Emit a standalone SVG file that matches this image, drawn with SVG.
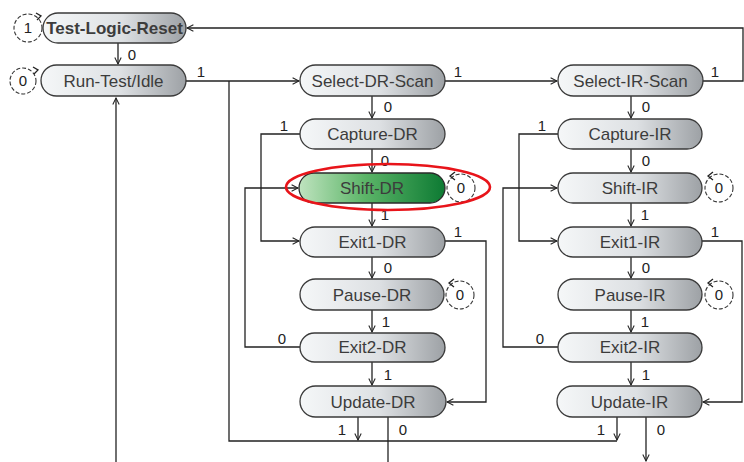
<svg xmlns="http://www.w3.org/2000/svg" width="744" height="462" viewBox="0 0 744 462">
<defs>
<linearGradient id="gray" x1="0" y1="0" x2="1" y2="0">
<stop offset="0" stop-color="#f5f7f8"/>
<stop offset="0.55" stop-color="#dde0e3"/>
<stop offset="1" stop-color="#9da1a5"/>
</linearGradient>
<linearGradient id="green" x1="0" y1="0" x2="1" y2="0">
<stop offset="0" stop-color="#bfe3bf"/>
<stop offset="0.45" stop-color="#5cb568"/>
<stop offset="1" stop-color="#0d7a33"/>
</linearGradient>
<marker id="arr" viewBox="0 0 10 10" refX="9" refY="5" markerWidth="8" markerHeight="8" markerUnits="userSpaceOnUse" orient="auto">
<path d="M1,1 L9,5 L1,9" fill="none" stroke="#222" stroke-width="1.3"/>
</marker>
<style>
.node{stroke:#3a3a3a;stroke-width:1.3;fill:url(#gray)}
.gnode{stroke:#2a2a2a;stroke-width:1.3;fill:url(#green)}
.nt{font-family:"Liberation Sans",Arial,sans-serif;font-size:17px;fill:#3c3c3c;text-anchor:middle}
.lbl{font-family:"Liberation Sans",Arial,sans-serif;font-size:15px;fill:#222;text-anchor:middle}
.c{fill:none;stroke:#222;stroke-width:1.3}
.loop{fill:#fff;stroke:#333;stroke-width:1.1;stroke-dasharray:4,2}
</style>
</defs>

<g id="connectors">
<path class="c" d="M118,43 V64" marker-end="url(#arr)"/>
<path class="c" d="M186,81 H299" marker-end="url(#arr)"/>
<path class="c" d="M445,81 H557" marker-end="url(#arr)"/>
<path class="c" d="M702,81 H743 V28 H187" marker-end="url(#arr)"/>
<path class="c" d="M372,96 V118" marker-end="url(#arr)"/>
<path class="c" d="M372,149 V172" marker-end="url(#arr)"/>
<path class="c" d="M372,203 V226" marker-end="url(#arr)"/>
<path class="c" d="M300,134 H261 V241 H299" marker-end="url(#arr)"/>
<path class="c" d="M372,257 V278" marker-end="url(#arr)"/>
<path class="c" d="M372,310 V332" marker-end="url(#arr)"/>
<path class="c" d="M300,347 H245 V188 H298" marker-end="url(#arr)"/>
<path class="c" d="M372,362 V385" marker-end="url(#arr)"/>
<path class="c" d="M445,241 H486 V402 H447" marker-end="url(#arr)"/>
<path class="c" d="M358,417 V440" marker-end="url(#arr)"/>
<path class="c" d="M617,417 V440" marker-end="url(#arr)"/>
<path class="c" d="M617,441 H229 V81"/>
<path class="c" d="M388,417 V462"/>
<path class="c" d="M116,462 V98" marker-end="url(#arr)"/>
<path class="c" d="M631,96 V118" marker-end="url(#arr)"/>
<path class="c" d="M631,149 V172" marker-end="url(#arr)"/>
<path class="c" d="M631,203 V226" marker-end="url(#arr)"/>
<path class="c" d="M558,134 H519 V241 H557" marker-end="url(#arr)"/>
<path class="c" d="M631,257 V278" marker-end="url(#arr)"/>
<path class="c" d="M631,310 V332" marker-end="url(#arr)"/>
<path class="c" d="M558,347 H503 V188 H557" marker-end="url(#arr)"/>
<path class="c" d="M631,362 V385" marker-end="url(#arr)"/>
<path class="c" d="M702,241 H742 V402 H703" marker-end="url(#arr)"/>
<path class="c" d="M646,417 V461" marker-end="url(#arr)"/>
<g>
<text x="132" y="60" class="lbl">0</text>
<text x="201" y="77" class="lbl">1</text>
<text x="458" y="77" class="lbl">1</text>
<text x="715" y="77" class="lbl">1</text>
<text x="388" y="112" class="lbl">0</text>
<text x="385" y="166" class="lbl">0</text>
<text x="385" y="220" class="lbl">1</text>
<text x="284" y="131" class="lbl">1</text>
<text x="388" y="273" class="lbl">0</text>
<text x="386" y="327" class="lbl">1</text>
<text x="282" y="344" class="lbl">0</text>
<text x="388" y="380" class="lbl">1</text>
<text x="458" y="237" class="lbl">1</text>
<text x="342" y="435" class="lbl">1</text>
<text x="403" y="435" class="lbl">0</text>
<text x="646" y="112" class="lbl">0</text>
<text x="646" y="166" class="lbl">0</text>
<text x="645" y="220" class="lbl">1</text>
<text x="542" y="131" class="lbl">1</text>
<text x="646" y="273" class="lbl">0</text>
<text x="645" y="327" class="lbl">1</text>
<text x="540" y="344" class="lbl">0</text>
<text x="646" y="380" class="lbl">1</text>
<text x="715" y="237" class="lbl">1</text>
<text x="601" y="435" class="lbl">1</text>
<text x="661" y="435" class="lbl">0</text>
</g>
</g>

<g id="Test-Logic-Reset">
<circle class="loop" cx="28" cy="28" r="14"/>
<path class="c" d="M36,13 L41,16 L37,20" stroke-width="1.1"/>
<text class="lbl" x="28" y="33">1</text>
<rect class="node" x="43" y="13" width="143" height="30" rx="15"/>
<text class="nt" x="114.5" y="34" font-weight="bold" font-size="16" fill="#444">Test-Logic-Reset</text>
</g>
<g id="Run-Test-Idle">
<circle class="loop" cx="23" cy="81" r="13"/>
<path class="c" d="M33,67 L38,70 L34,74" stroke-width="1.1"/>
<text class="lbl" x="23" y="86">0</text>
<rect class="node" x="41" y="65" width="145" height="31" rx="15.5"/>
<text class="nt" x="113.5" y="87">Run-Test/Idle</text>
</g>
<g id="Select-DR-Scan">
<rect class="node" x="300" y="65" width="145" height="31" rx="15.5"/>
<text class="nt" x="372.5" y="87">Select-DR-Scan</text>
</g>
<g id="Capture-DR">
<rect class="node" x="300" y="119" width="145" height="30" rx="15"/>
<text class="nt" x="372.5" y="140">Capture-DR</text>
</g>
<g id="Shift-DR">
<rect class="gnode" x="299" y="173" width="146" height="30" rx="15"/>
<text class="nt" x="372" y="194" fill="#2a2a2a">Shift-DR</text>
<circle class="loop" cx="461" cy="188" r="14"/>
<path class="c" d="M455,172 L450,176 L455,180" stroke-width="1.1"/>
<text class="lbl" x="461" y="193">0</text>
<ellipse cx="388" cy="187" rx="102" ry="23" fill="none" stroke="#e8141a" stroke-width="2.6"/>
</g>
<g id="Exit1-DR">
<rect class="node" x="300" y="227" width="145" height="30" rx="15"/>
<text class="nt" x="372.5" y="248">Exit1-DR</text>
</g>
<g id="Pause-DR">
<rect class="node" x="300" y="279" width="144" height="31" rx="15.5"/>
<text class="nt" x="372" y="301">Pause-DR</text>
<circle class="loop" cx="460" cy="295" r="14"/>
<path class="c" d="M454,279 L449,283 L454,287" stroke-width="1.1"/>
<text class="lbl" x="460" y="300">0</text>
</g>
<g id="Exit2-DR">
<rect class="node" x="300" y="333" width="145" height="29" rx="14.5"/>
<text class="nt" x="372.5" y="353">Exit2-DR</text>
</g>
<g id="Update-DR">
<rect class="node" x="300" y="386" width="146" height="31" rx="15.5"/>
<text class="nt" x="373" y="408">Update-DR</text>
</g>
<g id="Select-IR-Scan">
<rect class="node" x="558" y="65" width="145" height="31" rx="15.5"/>
<text class="nt" x="630.5" y="87">Select-IR-Scan</text>
</g>
<g id="Capture-IR">
<rect class="node" x="558" y="119" width="144" height="30" rx="15"/>
<text class="nt" x="630" y="140">Capture-IR</text>
</g>
<g id="Shift-IR">
<rect class="node" x="558" y="173" width="144" height="30" rx="15"/>
<text class="nt" x="630" y="194">Shift-IR</text>
<circle class="loop" cx="719" cy="188" r="14"/>
<path class="c" d="M713,172 L708,176 L713,180" stroke-width="1.1"/>
<text class="lbl" x="719" y="193">0</text>
</g>
<g id="Exit1-IR">
<rect class="node" x="558" y="227" width="144" height="30" rx="15"/>
<text class="nt" x="630" y="248">Exit1-IR</text>
</g>
<g id="Pause-IR">
<rect class="node" x="558" y="279" width="144" height="31" rx="15.5"/>
<text class="nt" x="630" y="301">Pause-IR</text>
<circle class="loop" cx="719" cy="295" r="14"/>
<path class="c" d="M713,279 L708,283 L713,287" stroke-width="1.1"/>
<text class="lbl" x="719" y="300">0</text>
</g>
<g id="Exit2-IR">
<rect class="node" x="558" y="333" width="144" height="29" rx="14.5"/>
<text class="nt" x="630" y="353">Exit2-IR</text>
</g>
<g id="Update-IR">
<rect class="node" x="557" y="386" width="145" height="31" rx="15.5"/>
<text class="nt" x="629.5" y="408">Update-IR</text>
</g>
</svg>
